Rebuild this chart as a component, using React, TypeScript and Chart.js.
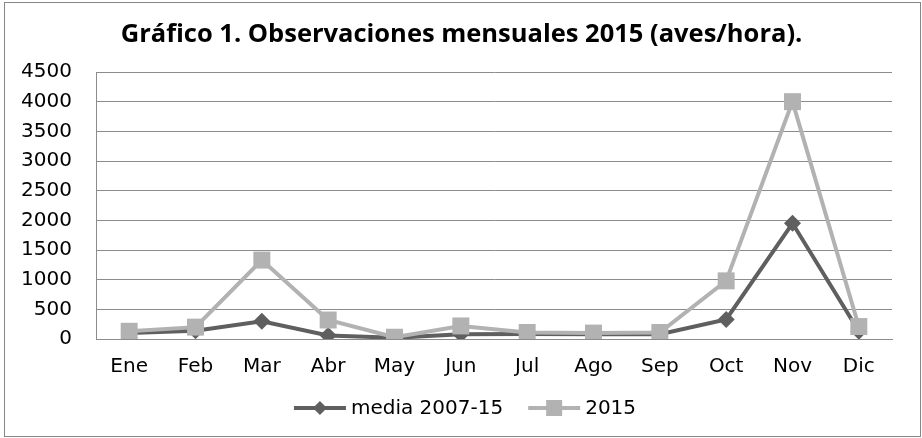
import React, { useEffect, useRef } from "react";
import { Chart, registerables } from "chart.js";

Chart.register(...registerables);

const TITLE = "Gráfico 1. Observaciones mensuales 2015 (aves/hora).";
const MONTHS = ["Ene", "Feb", "Mar", "Abr", "May", "Jun", "Jul", "Ago", "Sep", "Oct", "Nov", "Dic"];
const MEDIA_LABEL = "media 2007-15";
const MEDIA_VALUES = [100, 140, 300, 60, 20, 80, 85, 80, 80, 330, 1950, 130];
const Y2015_LABEL = "2015";
const Y2015_VALUES = [130, 200, 1330, 320, 30, 220, 110, 100, 110, 980, 4000, 210];
const Y_MIN = 0;
const Y_MAX = 4500;
const Y_STEP = 500;

const MEDIA_COLOR = "#5f5f5f";
const Y2015_COLOR = "#b2b2b2";
const TICK_FONT = "'DejaVu Sans'";

const frameAndText = {
  id: "frameAndText",
  afterDraw(chart: any) {
    const ctx = chart.ctx as CanvasRenderingContext2D;
    ctx.save();
    // outer frame
    ctx.strokeStyle = "#868686";
    ctx.lineWidth = 1;
    ctx.strokeRect(4.5, 2.5, 916, 434);
    // title
    ctx.fillStyle = "#000";
    ctx.font = "bold 25.5px 'Open Sans'";
    ctx.textAlign = "center";
    ctx.textBaseline = "alphabetic";
    ctx.fillText(TITLE, 461.5, 41.5);
    // legend
    ctx.font = `20px ${TICK_FONT}`;
    ctx.textAlign = "left";
    ctx.textBaseline = "middle";
    const items = chart.data.datasets.map((ds: any) => ds);
    const lineLen = 52;
    const gapText = 5;
    const gapItems = 25;
    const widths = items.map((ds: any) => lineLen + gapText + ctx.measureText(ds.label).width);
    const total = widths.reduce((a: number, b: number) => a + b, 0) + gapItems * (items.length - 1);
    let x = 465 - total / 2;
    const y = 408;
    items.forEach((ds: any, i: number) => {
      ctx.strokeStyle = ds.borderColor;
      ctx.lineWidth = ds.borderWidth;
      ctx.beginPath();
      ctx.moveTo(x, y);
      ctx.lineTo(x + lineLen, y);
      ctx.stroke();
      const cx = x + lineLen / 2;
      ctx.fillStyle = ds.pointBackgroundColor;
      ctx.beginPath();
      if (ds.pointStyle === "rect") {
        const s = 8;
        ctx.rect(cx - s, y - s, 2 * s, 2 * s);
      } else {
        const r = 7;
        ctx.moveTo(cx - r, y);
        ctx.lineTo(cx, y - r);
        ctx.lineTo(cx + r, y);
        ctx.lineTo(cx, y + r);
        ctx.closePath();
      }
      ctx.fill();
      ctx.fillStyle = "#000";
      ctx.fillText(ds.label, x + lineLen + gapText, y + 1);
      x += widths[i] + gapItems;
    });
    ctx.restore();
  },
};

export default function App() {
  const ref = useRef<HTMLCanvasElement | null>(null);
  useEffect(() => {
    document.body.style.margin = "0";
    const canvas = ref.current;
    if (!canvas) return;
    const chart = new Chart(canvas, {
      type: "line",
      data: {
        labels: MONTHS,
        datasets: [
          {
            label: MEDIA_LABEL,
            data: MEDIA_VALUES,
            borderColor: MEDIA_COLOR,
            backgroundColor: MEDIA_COLOR,
            borderWidth: 4,
            pointStyle: "rectRot",
            pointRadius: 8.5,
            pointBackgroundColor: MEDIA_COLOR,
            pointBorderColor: MEDIA_COLOR,
            pointBorderWidth: 0,
            tension: 0,
            order: 2,
          } as any,
          {
            label: Y2015_LABEL,
            data: Y2015_VALUES,
            borderColor: Y2015_COLOR,
            backgroundColor: Y2015_COLOR,
            borderWidth: 4,
            pointStyle: "rect",
            pointRadius: 12,
            pointBackgroundColor: Y2015_COLOR,
            pointBorderColor: Y2015_COLOR,
            pointBorderWidth: 0,
            tension: 0,
            order: 1,
          } as any,
        ],
      },
      options: {
        animation: false,
        responsive: false,
        maintainAspectRatio: false,
        layout: { padding: { left: 0, top: 72, right: 30, bottom: 59 } },
        plugins: {
          legend: { display: false },
          title: { display: false },
          tooltip: { enabled: false },
        },
        scales: {
          x: {
            offset: true,
            grid: { display: false, drawTicks: false },
            border: { display: true, color: "#8c8c8c", width: 1 },
            ticks: {
              color: "#000",
              font: { family: TICK_FONT, size: 20 },
              padding: 16,
              maxRotation: 0,
              autoSkip: false,
            },
            afterFit: (s: any) => {
              s.height = 40;
            },
          },
          y: {
            min: Y_MIN,
            max: Y_MAX,
            grid: { color: "#8c8c8c", lineWidth: 1, drawTicks: false },
            border: { display: true, color: "#8c8c8c", width: 1 },
            ticks: {
              stepSize: Y_STEP,
              color: "#000",
              font: { family: TICK_FONT, size: 20 },
              padding: 24,
              callback: (v: any) => String(v),
            },
            afterFit: (s: any) => {
              s.width = 96;
            },
          },
        },
      },
      plugins: [frameAndText],
    });
    return () => chart.destroy();
  }, []);
  return <canvas ref={ref} width={922} height={438} style={{ display: "block" }} />;
}
